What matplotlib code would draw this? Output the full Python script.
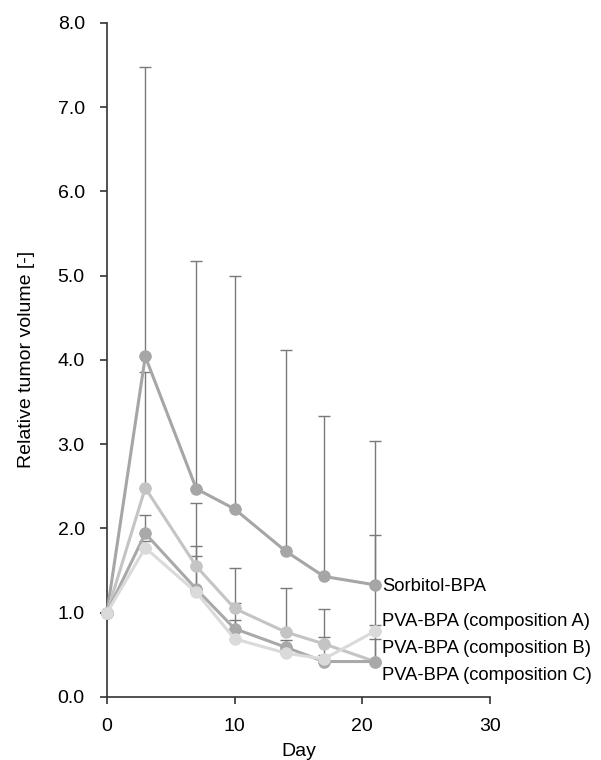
import matplotlib.pyplot as plt

days = [0, 3, 7, 10, 14, 17, 21]

sorbitol = [1.00, 4.04, 2.47, 2.23, 1.73, 1.43, 1.33]
sorbitol_err = [0, 3.44, 2.70, 2.77, 2.39, 1.90, 1.71]

comp_a = [1.00, 2.48, 1.55, 1.05, 0.77, 0.63, 0.42]
comp_a_err = [0, 1.37, 0.75, 0.48, 0.52, 0.41, 1.50]

comp_b = [1.00, 1.94, 1.28, 0.81, 0.59, 0.42, 0.42]
comp_b_err = [0, 0.22, 0.51, 0.30, 0.09, 0.29, 0.27]

comp_c = [1.00, 1.77, 1.24, 0.69, 0.52, 0.45, 0.78]
comp_c_err = [0, 0.08, 0.43, 0.22, 0.05, 0.05, 0.07]

labels = ["Sorbitol-BPA", "PVA-BPA (composition A)",
          "PVA-BPA (composition B)", "PVA-BPA (composition C)"]
label_y = [1.31, 0.89, 0.58, 0.26]

plt.rcParams['font.family'] = ['Liberation Sans', 'DejaVu Sans']
fs = 14

fig = plt.figure(figsize=(6.01, 7.6), dpi=100)
ax = fig.add_axes([0.178, 0.083, 0.637, 0.887])

series = [
    (sorbitol, sorbitol_err, "#a6a6a6"),
    (comp_a, comp_a_err, "#c4c4c4"),
    (comp_b, comp_b_err, "#a9a9a9"),
    (comp_c, comp_c_err, "#dadada"),
]

for vals, errs, color in series:
    ax.errorbar(days, vals, yerr=[[0] * len(errs), errs], fmt="none",
                ecolor="#7a7a7a", elinewidth=1.0, capsize=4, capthick=1.0,
                zorder=2, clip_on=False)

for vals, errs, color in series:
    ax.plot(days, vals, "-o", color=color, lw=2.2, markersize=8, zorder=3,
            clip_on=False)

# end-of-line labels, nudged right of the last point
for text, y in zip(labels, label_y):
    ax.annotate(text, (days[-1], y), xytext=(5, 0), textcoords="offset points",
                fontsize=13.2, va="center", ha="left", annotation_clip=False)

ax.set_xlim(0, 30)
ax.set_ylim(0, 8)
ax.set_xticks([0, 10, 20, 30])
ax.set_yticks(range(0, 9))
ax.set_yticklabels([f"{v:.1f}" for v in range(0, 9)])
ax.tick_params(labelsize=fs, direction="out", length=5, width=1.2, color="#333333")
ax.tick_params(axis="y", pad=11)
ax.tick_params(axis="x", pad=10)
ax.spines["top"].set_visible(False)
ax.spines["right"].set_visible(False)
for s in ("left", "bottom"):
    ax.spines[s].set_linewidth(1.2)
    ax.spines[s].set_color("#333333")

ax.set_xlabel("Day", fontsize=fs, va="center")
ax.xaxis.set_label_coords(0.5, -0.0816)
ax.set_ylabel("Relative tumor volume [-]", fontsize=fs, va="center")
ax.yaxis.set_label_coords(-0.21, 0.5)

fig.savefig("out.png", dpi=100)
